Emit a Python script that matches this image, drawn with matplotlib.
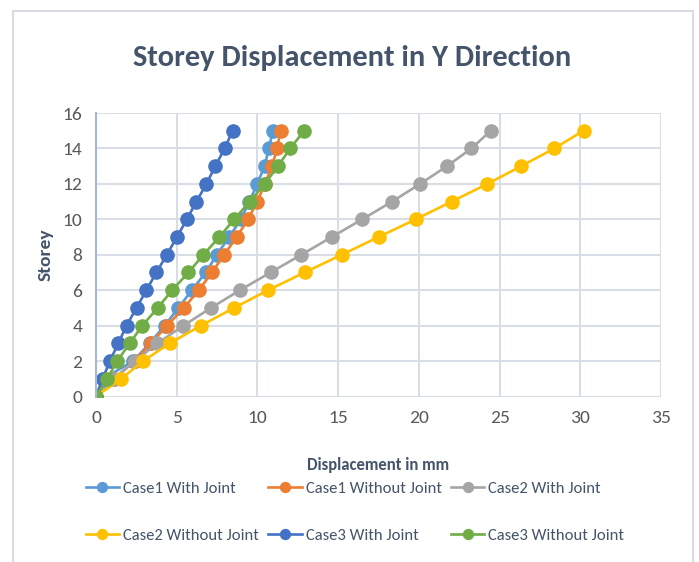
import matplotlib.pyplot as plt
from matplotlib.patches import Rectangle

plt.rcParams['font.family'] = ['Carlito', 'Lato', 'DejaVu Sans']

# storey levels and displacements (mm) for each case
storey = list(range(16))

case1_with = [0, 0.45, 2.3, 3.33, 4.25, 5.11, 5.93, 6.8, 7.48, 8.25, 8.98, 9.5, 9.99, 10.44, 10.71, 10.95]
case1_without = [0, 1.1, 2.4, 3.39, 4.41, 5.44, 6.37, 7.18, 7.94, 8.72, 9.42, 9.99, 10.46, 10.91, 11.22, 11.43]
case2_with = [0, 1.1, 2.4, 3.8, 5.42, 7.12, 8.92, 10.81, 12.72, 14.6, 16.49, 18.34, 20.08, 21.74, 23.26, 24.45]
case2_without = [0, 1.56, 2.92, 4.56, 6.5, 8.55, 10.66, 12.92, 15.22, 17.5, 19.8, 22.03, 24.25, 26.34, 28.39, 30.2]
case3_with = [0, 0.41, 0.86, 1.38, 1.89, 2.51, 3.12, 3.74, 4.39, 5.01, 5.63, 6.22, 6.84, 7.39, 7.97, 8.46]
case3_without = [0, 0.7, 1.31, 2.09, 2.87, 3.82, 4.72, 5.73, 6.65, 7.64, 8.56, 9.53, 10.45, 11.27, 12.03, 12.9]

series = [
    ('Case1 With Joint', case1_with, '#5B9BD5'),
    ('Case1 Without Joint', case1_without, '#ED7D31'),
    ('Case2 With Joint', case2_with, '#A5A5A5'),
    ('Case2 Without Joint', case2_without, '#FFC000'),
    ('Case3 With Joint', case3_with, '#4472C4'),
    ('Case3 Without Joint', case3_without, '#70AD47'),
]

text_col = '#44546A'
tick_col = '#595959'
grid_col = '#D9DDE6'

fig = plt.figure(figsize=(6.99, 5.62), dpi=100)
fig.patches.append(Rectangle((13 / 699, -0.02), 680 / 699, 1.0004, transform=fig.transFigure,
                             fill=False, edgecolor='#D9DCE3', linewidth=1.5))

ax = fig.add_axes([96 / 699, 1 - 396.5 / 562, 565 / 699, 283.5 / 562])

for name, xs, col in series:
    ax.plot(xs, storey, color=col, linewidth=1.9, marker='o', markersize=9.5,
            markeredgecolor=col, label=name)

ax.set_xlim(0, 35)
ax.set_ylim(0, 16)
ax.set_xticks(range(0, 36, 5))
ax.set_yticks(range(0, 17, 2))
ax.grid(True, color=grid_col, linewidth=1.5)
ax.set_axisbelow(True)
for side in ['top', 'right', 'bottom']:
    ax.spines[side].set_visible(False)
ax.spines['left'].set_color('#A9B8D2')
ax.spines['left'].set_linewidth(1.5)
ax.tick_params(length=0, labelsize=14, labelcolor=tick_col, pad=10)
for lab in ax.get_xticklabels() + ax.get_yticklabels():
    lab.set_clip_on(False)

ax.set_xlabel('Displacement in mm', fontsize=12, fontweight='bold', color=text_col, labelpad=22)
ax.set_ylabel('Storey', fontsize=14, fontweight='bold', color=text_col, labelpad=6)

fig.text(352 / 699, 1 - 58 / 562, 'Storey Displacement in Y Direction', ha='center', va='center',
         fontsize=22, fontweight='bold', color=text_col)

# legend fills rows: reorder handles for the column-first layout
handles, labels = ax.get_legend_handles_labels()
order = [0, 3, 1, 4, 2, 5]
leg = fig.legend([handles[i] for i in order], [labels[i] for i in order],
                 loc='center', bbox_to_anchor=(355 / 699, 1 - 512 / 562), ncol=3, frameon=False,
                 fontsize=12, handlelength=2.0, handletextpad=0.25, columnspacing=0.55,
                 labelspacing=1.95, markerscale=0.75, borderpad=0)
for t in leg.get_texts():
    t.set_color(text_col)

fig.savefig('out.png', dpi=100, facecolor='white')
